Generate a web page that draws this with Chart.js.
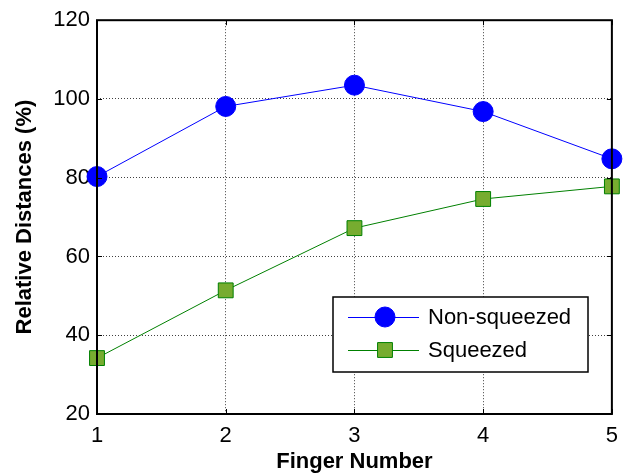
<!DOCTYPE html>
<html>
<head>
<meta charset="utf-8">
<script src="https://cdn.jsdelivr.net/npm/chart.js@4"></script>
<style>
  html, body { margin: 0; padding: 0; background: #fff; }
</style>
</head>
<body>
<canvas id="chart" width="627" height="476"></canvas>
<script>
// data
const fingers = ["1", "2", "3", "4", "5"];
const nonSqueezed = [80.3, 98.1, 103.5, 96.8, 84.8];
const squeezed = [34.2, 51.4, 67.2, 74.6, 77.8];
const seriesNames = ["Non-squeezed", "Squeezed"];

const FONT = "Arial, 'Liberation Sans', sans-serif";

function drawMarker(ctx, ds, x, y) {
    ctx.fillStyle = ds.pointBackgroundColor;
    ctx.strokeStyle = ds.pointBorderColor;
    ctx.lineWidth = ds.pointBorderWidth;
    Chart.helpers.drawPoint(ctx, {
        pointStyle: ds.pointStyle,
        radius: ds.pointRadius,
        borderWidth: ds.pointBorderWidth
    }, x, y);
}

// box around the plot, inward ticks (matlab style) and the legend
const boxPlugin = {
    id: "box",
    afterDatasetsDraw(chart) {
        const { ctx, chartArea: a, scales } = chart;
        ctx.save();
        ctx.strokeStyle = "#000";
        ctx.lineWidth = 1;
        ctx.beginPath();
        scales.x.ticks.forEach((t, i) => {
            const px = Math.round(scales.x.getPixelForTick(i)) + 0.5;
            ctx.moveTo(px, a.bottom); ctx.lineTo(px, a.bottom - 5);
            ctx.moveTo(px, a.top); ctx.lineTo(px, a.top + 5);
        });
        scales.y.ticks.forEach((t, i) => {
            const py = Math.round(scales.y.getPixelForTick(i)) + 0.5;
            ctx.moveTo(a.left, py); ctx.lineTo(a.left + 5, py);
            ctx.moveTo(a.right, py); ctx.lineTo(a.right - 5, py);
        });
        ctx.stroke();
        ctx.lineWidth = 2;
        ctx.strokeRect(a.left, a.top, a.right - a.left, a.bottom - a.top);
        ctx.restore();
    },
    afterDraw(chart) {
        const ctx = chart.ctx;
        const lx = 333, ly = 297, lw = 255, lh = 75;
        ctx.save();
        ctx.fillStyle = "#fff";
        ctx.fillRect(lx, ly, lw, lh);
        ctx.strokeStyle = "#000";
        ctx.lineWidth = 1.5;
        ctx.strokeRect(lx, ly, lw, lh);
        chart.data.datasets.forEach((ds, i) => {
            const cy = ly + 20 + i * 33;
            ctx.strokeStyle = ds.borderColor;
            ctx.lineWidth = 1;
            ctx.beginPath();
            ctx.moveTo(348, cy + 0.5);
            ctx.lineTo(419, cy + 0.5);
            ctx.stroke();
            drawMarker(ctx, ds, 385, cy);
            ctx.fillStyle = "#000";
            ctx.font = "22px " + FONT;
            ctx.textBaseline = "middle";
            ctx.textAlign = "left";
            ctx.fillText(ds.label, 428, cy + 1);
        });
        ctx.restore();
    }
};

new Chart(document.getElementById("chart"), {
    type: "line",
    data: {
        labels: fingers,
        datasets: [{
            label: seriesNames[0],
            data: nonSqueezed,
            borderColor: "#0000ff",
            borderWidth: 1,
            pointStyle: "circle",
            pointRadius: 10,
            pointBackgroundColor: "#0000ff",
            pointBorderColor: "#0000ff",
            pointBorderWidth: 1,
            tension: 0,
            clip: false
        }, {
            label: seriesNames[1],
            data: squeezed,
            borderColor: "#008000",
            borderWidth: 1,
            pointStyle: "rect",
            pointRadius: 10.5,
            pointBackgroundColor: "#77ac30",
            pointBorderColor: "#008000",
            pointBorderWidth: 1,
            tension: 0,
            clip: false
        }]
    },
    options: {
        responsive: false,
        animation: false,
        layout: { padding: { top: 19, right: 15, left: 0, bottom: 0 } },
        plugins: { legend: { display: false }, tooltip: { enabled: false } },
        scales: {
            x: {
                offset: false,
                afterFit: s => { s.height = 62; },
                grid: { color: "#404040", drawTicks: false, lineWidth: 1 },
                border: { display: false, dash: [1, 2] },
                ticks: { color: "#000", padding: 9, font: { family: FONT, size: 22 } },
                title: {
                    display: true, text: "Finger Number", color: "#000",
                    font: { family: FONT, size: 22, weight: "bold" },
                    padding: { top: 0, bottom: 1 }
                }
            },
            y: {
                min: 20, max: 120,
                afterFit: s => { s.width = 97; },
                grid: { color: "#404040", drawTicks: false, lineWidth: 1 },
                border: { display: false, dash: [1, 2] },
                ticks: { stepSize: 20, color: "#000", padding: 7, font: { family: FONT, size: 22 } },
                title: {
                    display: true, text: "Relative Distances (%)", color: "#000",
                    font: { family: FONT, size: 22, weight: "bold" },
                    padding: { top: 12, bottom: 0 }
                }
            }
        }
    },
    plugins: [boxPlugin]
});
</script>
</body>
</html>
